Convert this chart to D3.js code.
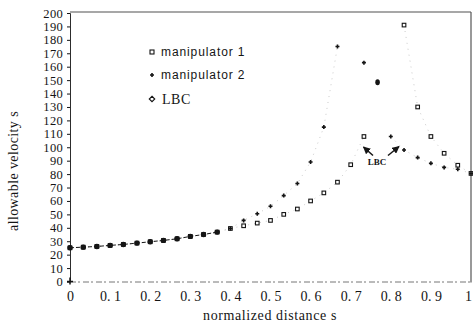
<!DOCTYPE html>
<html><head><meta charset="utf-8">
<script src="https://cdn.jsdelivr.net/npm/d3@7"></script>
<style>body{margin:0;background:#fff}svg{display:block}</style>
</head><body><svg id="c" width="473" height="323"></svg>
<script>
// normalized distance s (categories)
const sValues = [0,0.033,0.067,0.1,0.133,0.167,0.2,0.233,0.267,0.3,0.333,0.367,0.4,0.433,0.467,0.5,0.533,0.567,0.6,0.633,0.667,0.7,0.733,0.767,0.8,0.833,0.867,0.9,0.933,0.967,1.0];
// allowable velocity, manipulator 1 (squares)
const manip1 = [25.1,25.6,26.1,26.9,27.6,28.6,29.6,30.6,31.8,33.6,35.0,36.8,39.5,41.5,43.5,45.5,50.0,54.0,60.0,66.0,74.0,87.0,108.0,null,null,191,130,108,95.5,86.6,80.5];
// allowable velocity, manipulator 2 (+)
const manip2 = [25.1,25.6,26.1,26.9,27.6,28.6,29.6,30.6,31.8,33.6,35.0,36.8,39.5,45.5,50.5,56.0,64.0,73.0,89.0,115,175,null,163,null,108,98,92.3,88,85,83.6,80.5];
// LBC (diamonds)
const lbc = [25.1,25.6,26.1,26.9,27.6,28.6,29.6,30.6,31.8,33.6,35.0,36.8,null,null,null,null,null,null,null,null,null,null,null,148.5,null,null,null,null,null,null,null];
const xTicks = [0,0.1,0.2,0.3,0.4,0.5,0.6,0.7,0.8,0.9,1];
const xTickLabels = ["0","0. 1","0. 2","0. 3","0. 4","0. 5","0. 6","0. 7","0. 8","0. 9","1"];
const yTicks = [0,10,20,30,40,50,60,70,80,90,100,110,120,130,140,150,160,170,180,190,200];
const legendLabels = ["manipulator 1","manipulator 2","LBC"];

const svg = d3.select("#c");
const x = d3.scaleLinear().domain([0,1]).range([70,471]);
const y = d3.scaleLinear().domain([0,200]).range([281.5,13]);
const ink = "#151515";
const serif = "'Liberation Serif','DejaVu Serif',serif";

svg.append("defs").append("clipPath").attr("id","pa")
  .append("rect").attr("x",x(0)-4).attr("y",y(200)).attr("width",x(1)-x(0)+8).attr("height",y(0)-y(200)+4);

// frame
svg.append("line").attr("x1",x(0)).attr("x2",x(1)).attr("y1",y(200)-1).attr("y2",y(200)-1)
  .attr("stroke","#8a8a8a").attr("stroke-width",1.6);
svg.append("line").attr("x1",x(1)).attr("x2",x(1)).attr("y1",y(200)-1).attr("y2",y(0)+1)
  .attr("stroke","#555").attr("stroke-width",1.2);
svg.append("line").attr("x1",x(0)).attr("x2",x(1)).attr("y1",y(0)+0.5).attr("y2",y(0)+0.5)
  .attr("stroke","#777").attr("stroke-width",1).attr("stroke-dasharray","6,2,2,3");

// y axis
const ya = svg.append("g").attr("transform",`translate(${x(0)},0)`)
  .call(d3.axisLeft(y).tickValues(yTicks).tickSize(3).tickPadding(4));
ya.select(".domain").attr("stroke",ink).attr("stroke-width",0.9);
ya.selectAll(".tick line").attr("stroke",ink);
ya.selectAll("text").attr("font-family",serif).attr("font-size",12.5).attr("fill",ink).attr("letter-spacing","0.3px");

// x axis labels
const xa = svg.append("g").attr("transform",`translate(0,${y(0)})`)
  .call(d3.axisBottom(x).tickValues(xTicks).tickSize(0).tickPadding(10).tickFormat((d,i)=>xTickLabels[i]));
xa.select(".domain").remove();
xa.selectAll("text").attr("font-family",serif).attr("font-size",14).attr("fill",ink);
xa.selectAll(".tick").filter(d=>d===1).select("text").attr("text-anchor","end").attr("dx","0.5");

// axis corner mark
svg.append("path").attr("d",`M${x(0)-3},${y(0)}h6M${x(0)},${y(0)-4}v7`).attr("stroke",ink).attr("stroke-width",1.5);

// titles
svg.append("text").attr("x",270).attr("y",320).attr("text-anchor","middle")
  .attr("font-family",serif).attr("font-size",14).attr("letter-spacing","0.6px").attr("fill",ink)
  .text("normalized distance s");
svg.append("text").attr("transform","translate(18,171) rotate(-90)").attr("text-anchor","middle")
  .attr("font-family",serif).attr("font-size",14).attr("letter-spacing","0.4px").attr("fill",ink)
  .text("allowable velocity s");

const plot = svg.append("g").attr("clip-path","url(#pa)");
const line = d3.line().defined(d=>d[1]!=null).x(d=>x(d[0])).y(d=>y(d[1]));
const pts = arr => sValues.map((s,i)=>[s,arr[i]]);

// faint connecting curves
plot.append("path").datum(pts(manip1)).attr("d",line).attr("fill","none")
  .attr("stroke","#bdbdbd").attr("stroke-width",0.8).attr("stroke-dasharray","1,5");
plot.append("path").datum(pts(manip2)).attr("d",line).attr("fill","none")
  .attr("stroke","#bdbdbd").attr("stroke-width",0.8).attr("stroke-dasharray","1,5");
plot.append("path").datum(pts(lbc).slice(0,12)).attr("d",line).attr("fill","none")
  .attr("stroke",ink).attr("stroke-width",1).attr("stroke-dasharray","4,2");

const sq = (g,cx,cy,s)=>g.append("rect").attr("x",cx-s/2).attr("y",cy-s/2).attr("width",s).attr("height",s)
  .attr("fill","#fff").attr("stroke",ink).attr("stroke-width",1.1);
const plus = (g,cx,cy,s)=>g.append("path").attr("d",`M${cx-s/2},${cy}h${s}M${cx},${cy-s/2}v${s}`)
  .attr("stroke",ink).attr("stroke-width",1.6);
const dia = (g,cx,cy,s,fill)=>g.append("path").attr("d",`M${cx},${cy-s/2}L${cx+s/2},${cy}L${cx},${cy+s/2}L${cx-s/2},${cy}Z`)
  .attr("fill",fill).attr("stroke",ink).attr("stroke-width",1.1);

pts(manip1).filter(d=>d[1]!=null).forEach(d=>sq(plot,x(d[0]),y(d[1]),3.6));
pts(manip2).filter(d=>d[1]!=null).forEach(d=>plus(plot,x(d[0]),y(d[1]),4));
pts(lbc).filter(d=>d[1]!=null).forEach((d,i)=>{
  if (d[1] > 100) plot.append("ellipse").attr("cx",x(d[0])).attr("cy",y(d[1])).attr("rx",2.3).attr("ry",3).attr("fill",ink);
  else plot.append("circle").attr("cx",x(d[0])).attr("cy",y(d[1])).attr("r",2.7).attr("fill",ink);
});

// LBC annotation
svg.append("text").attr("x",377).attr("y",165).attr("text-anchor","middle")
  .attr("font-family",serif).attr("font-size",9).attr("font-weight","bold").attr("fill",ink).text("LBC");
const defs = svg.select("defs");
defs.append("marker").attr("id","ah").attr("viewBox","0 0 10 10").attr("refX",9).attr("refY",5)
  .attr("markerWidth",5).attr("markerHeight",5).attr("orient","auto")
  .append("path").attr("d","M0,0L10,5L0,10Z").attr("fill",ink);
svg.append("line").attr("x1",373).attr("y1",155.5).attr("x2",363.5).attr("y2",147)
  .attr("stroke",ink).attr("stroke-width",1.5).attr("marker-end","url(#ah)");
svg.append("line").attr("x1",388).attr("y1",155.5).attr("x2",399).attr("y2",146.5)
  .attr("stroke",ink).attr("stroke-width",1.5).attr("marker-end","url(#ah)");

// legend
const lg = svg.append("g");
const ly = [52,75,99];
sq(lg,152,ly[0],4);
plus(lg,152,ly[1],4);
dia(lg,152,ly[2],5.5,"#fff");
lg.append("text").attr("x",161).attr("y",ly[0]+4).attr("font-family","'Liberation Sans',Arial,sans-serif")
  .attr("font-size",12).attr("letter-spacing","0.9px").attr("fill",ink).text(legendLabels[0]);
lg.append("text").attr("x",161).attr("y",ly[1]+4).attr("font-family","'Liberation Sans',Arial,sans-serif")
  .attr("font-size",12).attr("letter-spacing","0.9px").attr("fill",ink).text(legendLabels[1]);
lg.append("text").attr("x",162).attr("y",ly[2]+5).attr("font-family",serif)
  .attr("font-size",14).attr("letter-spacing","0.5px").attr("fill",ink).text(legendLabels[2]);
</script></body></html>
